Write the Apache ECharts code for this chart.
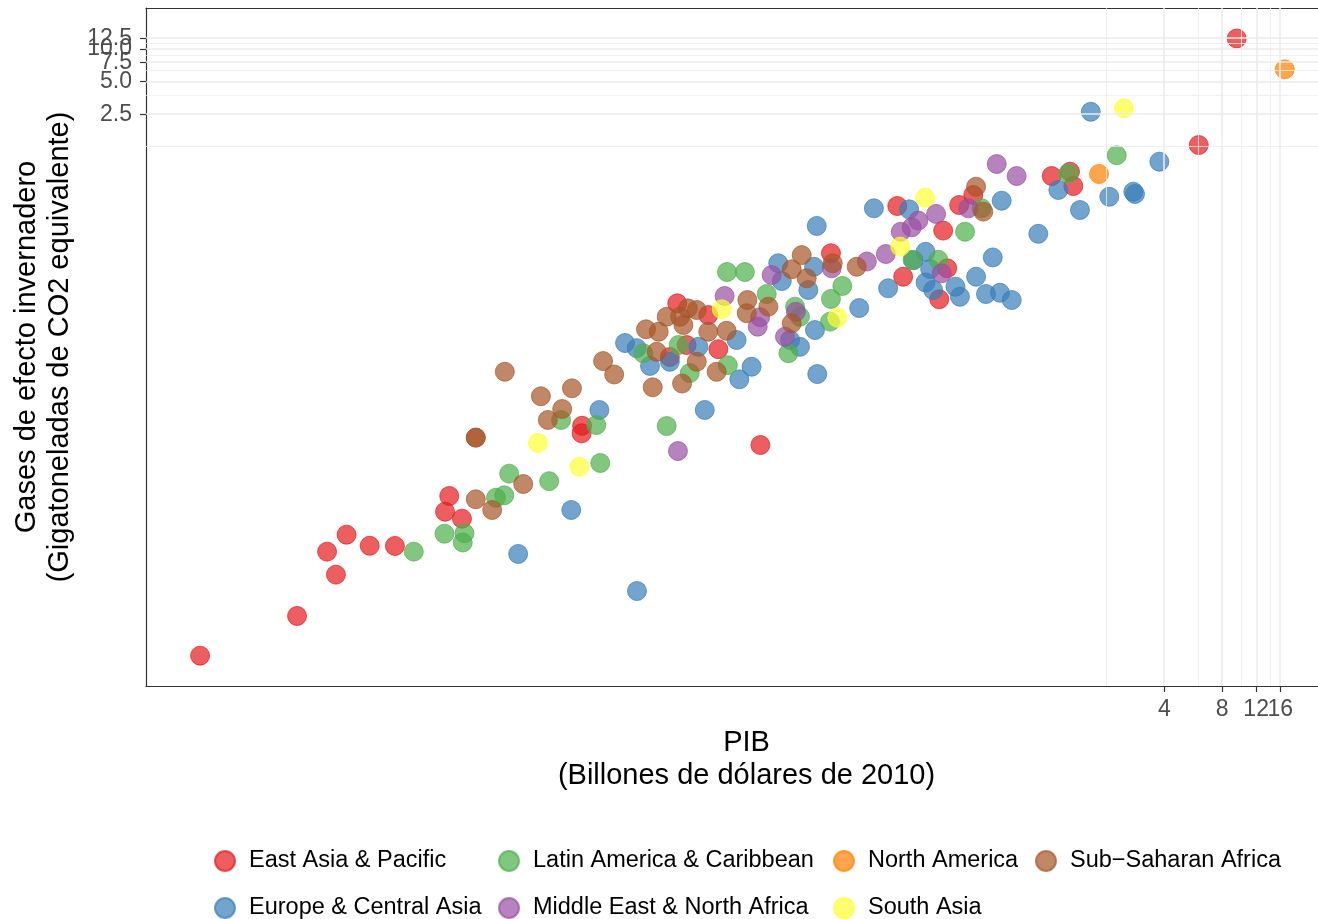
<!DOCTYPE html>
<html><head><meta charset="utf-8">
<script src="https://cdn.jsdelivr.net/npm/echarts@6/dist/echarts.min.js"></script>
<style>html,body{margin:0;padding:0;background:#fff}#chart{width:1318px;height:919px}</style>
</head><body><div id="chart"></div>
<script>
// Regions (legend / series names)
const regions = ['East Asia & Pacific', 'Europe & Central Asia', 'Latin America & Caribbean',
  'Middle East & North Africa', 'North America', 'South Asia', 'Sub\u2212Saharan Africa'];

// [PIB (billones USD 2010), Gases (Gt CO2 eq)]
const eastAsiaPacific = [[3.92e-5,2.56e-5],[1.25e-4,5.95e-5],[1.79e-4,2.33e-4],[1.99e-4,1.43e-4],[2.26e-4,3.34e-4],[2.98e-4,2.64e-4],[4.03e-4,2.63e-4],[7.72e-4,7.59e-4],[7.34e-4,5.44e-4],[8.99e-4,4.69e-4],[3.78e-3,3.37e-3],[3.76e-3,2.87e-3],[0.0118,0.0453],[0.0171,0.0353],[0.0132,0.0187],[0.0193,0.0171],[0.0108,0.0145],[0.0319,0.00224],[0.0742,0.131],[0.164,0.357],[0.284,0.212],[0.176,0.0797],[0.298,0.0952],[0.271,0.0494],[0.344,0.365],[0.407,0.451],[1.04,0.675],[1.295,0.740],[1.347,0.546],[6.04,1.304],[9.51,12.5]];
const europeCentralAsia = [[1.76e-3,2.22e-4],[3.32e-3,5.64e-4],[7.29e-3,1.01e-4],[4.65e-3,4.71e-3],[6.32e-3,0.0195],[7.27e-3,0.0175],[8.52e-3,0.0120],[0.0108,0.0131],[0.0152,0.0180],[0.0240,0.0208],[0.0287,0.0118],[0.0248,0.00903],[0.0164,0.00471],[0.0412,0.0727],[0.0395,0.106],[0.0606,0.0985],[0.0566,0.0601],[0.0626,0.234],[0.0455,0.0208],[0.0512,0.0180],[0.0613,0.0257],[0.0630,0.0101],[0.104,0.0410],[0.147,0.0623],[0.124,0.340],[0.189,0.333],[0.230,0.135],[0.199,0.113],[0.243,0.0938],[0.230,0.0705],[0.252,0.0601],[0.329,0.0645],[0.347,0.0521],[0.421,0.0797],[0.514,0.120],[0.474,0.0552],[0.560,0.0567],[0.645,0.0486],[0.572,0.400],[0.886,0.198],[1.126,0.502],[1.459,0.328],[2.072,0.435],[2.761,0.484],[2.818,0.461],[3.77,0.915],[1.66,2.64]];
const latinAmericaCaribbean = [[5.05e-4,2.33e-4],[7.29e-4,3.41e-4],[9.26e-4,3.44e-4],[9.07e-4,2.83e-4],[1.35e-3,7.32e-4],[1.49e-3,7.70e-4],[1.58e-3,1.22e-3],[2.55e-3,1.04e-3],[2.94e-3,3.81e-3],[4.48e-3,3.42e-3],[4.70e-3,1.53e-3],[0.0104,0.00335],[7.86e-3,0.0157],[0.0120,0.0187],[0.0137,0.0103],[0.0216,0.0122],[0.0214,0.0880],[0.0265,0.0880],[0.0344,0.0552],[0.0483,0.0422],[0.0512,0.0341],[0.0446,0.0157],[0.0742,0.0497],[0.0734,0.0307],[0.0850,0.0654],[0.197,0.114],[0.268,0.114],[0.369,0.207],[0.450,0.340],[1.269,0.715],[2.264,1.048]];
const middleEastNorthAfrica = [[0.0119,0.00197],[0.0208,0.0529],[0.0318,0.0337],[0.0309,0.0276],[0.0365,0.0826],[0.0488,0.0379],[0.0428,0.0223],[0.0749,0.0952],[0.114,0.110],[0.143,0.129],[0.171,0.207],[0.195,0.227],[0.211,0.262],[0.261,0.302],[0.279,0.0856],[0.384,0.340],[0.539,0.871],[0.684,0.675]];
const northAmerica = [[1.832,0.705],[16.9,6.50]];
const southAsia = [[2.23e-3,2.34e-3],[3.66e-3,1.41e-3],[0.0201,0.0399],[0.0801,0.0334],[0.170,0.151],[0.229,0.426],[2.47,2.84]];
const subSaharanAfrica = [[1.06e-3,7.08e-4],[1.29e-3,5.64e-4],[1.87e-3,9.79e-4],[1.06e-3,2.62e-3],[1.06e-3,2.62e-3],[1.50e-3,0.0106],[2.31e-3,6.30e-3],[2.51e-3,3.81e-3],[2.98e-3,4.81e-3],[3.35e-3,7.46e-3],[4.86e-3,0.0133],[5.55e-3,0.0100],[8.12e-3,0.0261],[9.45e-3,0.0248],[9.23e-3,0.0162],[8.80e-3,7.62e-3],[0.0104,0.0341],[0.0122,0.0341],[0.0127,0.0286],[0.0134,0.0407],[0.0149,0.0393],[0.0149,0.0131],[0.0125,0.00826],[0.0171,0.0248],[0.0189,0.0106],[0.0213,0.0253],[0.0273,0.0486],[0.0271,0.0367],[0.0351,0.0422],[0.0523,0.126],[0.0464,0.0932],[0.0555,0.0770],[0.0464,0.0296],[0.0758,0.106],[0.101,0.0985],[0.421,0.538],[0.459,0.317]];

// Tick labels / grid breaks (data units)
const xMajor = [4, 8, 12, 16];
const xMinor = [2, 6, 10, 14];
const yMajor = [2.5, 5, 7.5, 10, 12.5];
const yMinor = [1.25, 3.75, 6.25, 8.75, 11.25];
// labels that overlap their neighbours are drawn by a second (label-only) axis
const xLabelsA = [4, 8, 16], xLabelsB = [12];
const yLabelsA = [2.5, 5, 7.5, 12.5], yLabelsB = [10];

const regionData = [eastAsiaPacific, europeCentralAsia, latinAmericaCaribbean, middleEastNorthAfrica, northAmerica, southAsia, subSaharanAfrica];
const colors = ['#E41A1C', '#377EB8', '#4DAF4A', '#984EA3', '#FF7F00', '#FFFF33', '#A65628'];
const L = v => Math.log10(v);
const FONT = '"Liberation Sans", Arial, Helvetica, sans-serif';

// log10 range of the panel
const xRange = [-4.6878, 1.4005];
const yRange = [-4.8710, 1.3779];

const legendPos = [[214, 849], [214, 896], [498, 849], [498, 896], [833, 849], [833, 896], [1035, 849]];

const grid = '#EBEBEB';
const gridLines = [
  ...xMajor.map(v => ({ xAxis: L(v), lineStyle: { color: grid, width: 1.6, type: 'solid' } })),
  ...xMinor.map(v => ({ xAxis: L(v), lineStyle: { color: grid, width: 0.8, type: 'solid' } })),
  ...yMajor.map(v => ({ yAxis: L(v), lineStyle: { color: grid, width: 1.6, type: 'solid' } })),
  ...yMinor.map(v => ({ yAxis: L(v), lineStyle: { color: grid, width: 0.8, type: 'solid' } }))
];

const border = { show: true, onZero: false, lineStyle: { color: '#333333', width: 1.2 } };
const tickStyle = { color: '#333333', width: 1.2 };
const xFmt = v => String(Math.round(Math.pow(10, v)));
const yFmt = v => Math.pow(10, v).toFixed(1);
const labelBase = { fontSize: 23, color: '#4D4D4D', fontFamily: FONT, showMinLabel: true, showMaxLabel: true, hideOverlap: false };

const chart = echarts.init(document.getElementById('chart'), null, { renderer: 'canvas' });
chart.setOption({
  animation: false,
  backgroundColor: '#fff',
  textStyle: { fontFamily: FONT },
  grid: { left: 146, right: 0, top: 8, bottom: 233, show: false },
  xAxis: [{
    type: 'value', min: xRange[0], max: xRange[1], position: 'bottom',
    axisLine: border, splitLine: { show: false },
    axisTick: { show: true, customValues: xMajor.map(L), length: 6, lineStyle: tickStyle },
    axisLabel: Object.assign({ customValues: xLabelsA.map(L), formatter: xFmt, margin: 12 }, labelBase),
    name: 'PIB\n(Billones de dólares de 2010)', nameLocation: 'middle', nameGap: 40,
    nameTextStyle: { fontSize: 29, lineHeight: 33, color: '#000', fontFamily: FONT, align: 'center', padding: [0, 0, 0, 29] }
  }, {
    type: 'value', min: xRange[0], max: xRange[1], position: 'top',
    axisLine: border, splitLine: { show: false }, axisTick: { show: false }, axisLabel: { show: false }
  }, {
    type: 'value', min: xRange[0], max: xRange[1], position: 'bottom', offset: 0,
    axisLine: { show: false, onZero: false }, splitLine: { show: false }, axisTick: { show: false },
    axisLabel: Object.assign({ customValues: xLabelsB.map(L), formatter: xFmt, margin: 12 }, labelBase)
  }],
  yAxis: [{
    type: 'value', min: yRange[0], max: yRange[1], position: 'left',
    axisLine: border, splitLine: { show: false },
    axisTick: { show: true, customValues: yMajor.map(L), length: 6, lineStyle: tickStyle },
    axisLabel: Object.assign({ customValues: yLabelsA.map(L), formatter: yFmt, margin: 14 }, labelBase),
    name: 'Gases de efecto invernadero\n(Gigatoneladas de CO2 equivalente)', nameLocation: 'middle', nameGap: 63, nameRotate: 90,
    nameTextStyle: { fontSize: 29, lineHeight: 33, color: '#000', fontFamily: FONT, align: 'center' }
  }, {
    type: 'value', min: yRange[0], max: yRange[1], position: 'left', offset: 0,
    axisLine: { show: false, onZero: false }, splitLine: { show: false }, axisTick: { show: false },
    axisLabel: Object.assign({ customValues: yLabelsB.map(L), formatter: yFmt, margin: 14 }, labelBase)
  }],
  legend: regions.map((r, i) => ({
    data: [r], left: legendPos[i][0], top: legendPos[i][1], padding: 0,
    itemWidth: 20, itemHeight: 20, icon: 'circle', selectedMode: false,
    itemStyle: { opacity: 0.7 },
    textStyle: { fontSize: 23.5, color: '#000', fontFamily: FONT, padding: [0, 0, 0, 9] }
  })),
  series: [
    { type: 'scatter', name: '__grid', data: [], z: 1, silent: true,
      markLine: { silent: true, symbol: 'none', animation: false, label: { show: false }, data: gridLines } },
    ...regionData.map((d, i) => ({
      type: 'scatter', name: regions[i], z: 3,
      data: d.map(p => [L(p[0]), L(p[1])]),
      symbol: 'circle', symbolSize: 19,
      itemStyle: { color: colors[i], opacity: 0.7, borderColor: colors[i], borderWidth: 1 },
      emphasis: { disabled: true }
    }))
  ]
});
</script></body></html>
